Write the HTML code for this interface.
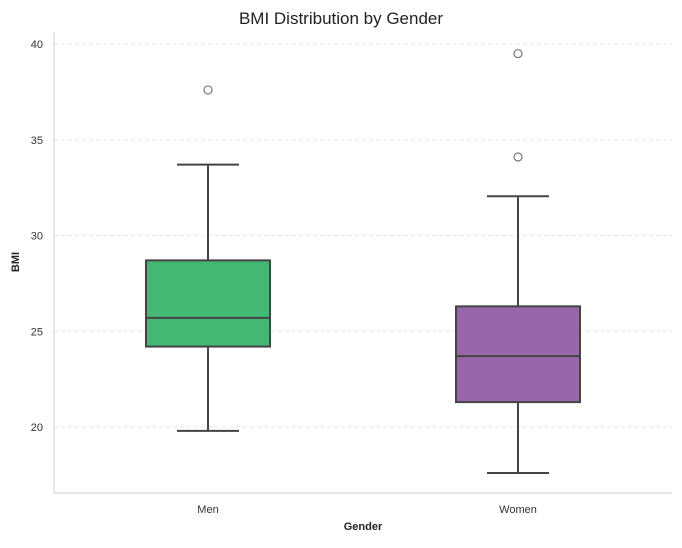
<!DOCTYPE html>
<html><head><meta charset="utf-8"><style>
body{margin:0;background:#fff;font-family:"Liberation Sans",sans-serif}
svg text{font-family:"Liberation Sans",sans-serif}
</style></head><body>
<svg id="chart" width="682" height="543" xmlns="http://www.w3.org/2000/svg">
<rect width="682" height="543" fill="#fff"/>
<text x="341" y="24" text-anchor="middle" font-size="17" fill="#222">BMI Distribution by Gender</text>
<g id="grid"></g><g id="yticks"></g><g id="boxes"></g><g id="xticks"></g>
<line x1="54" y1="32" x2="54" y2="493" stroke="#ccc" stroke-width="1"/>
<line x1="54" y1="493" x2="672" y2="493" stroke="#ccc" stroke-width="1"/>
<text x="19" y="262" text-anchor="middle" font-size="11" font-weight="bold" fill="#222" transform="rotate(-90 19 262)">BMI</text>
<text x="363" y="530" text-anchor="middle" font-size="11" font-weight="bold" fill="#222">Gender</text>
</svg>
<script>
const categories=["Men","Women"];
const whiskerLow=[19.8,17.6];
const q1=[24.2,21.3];
const median=[25.7,23.7];
const q3=[28.7,26.3];
const whiskerHigh=[33.7,32.05];
const outliers=[[37.6],[39.5,34.1]];
const colors=["#43b874","#9767aa"];
const yTicks=[20,25,30,35,40];
const NS="http://www.w3.org/2000/svg";
function y(v){return 427-(v-20)*19.15;}
function x(i){return 208+i*310;}
function mk(tag,attrs,parent){const e=document.createElementNS(NS,tag);for(const k in attrs)e.setAttribute(k,attrs[k]);document.getElementById(parent).appendChild(e);return e;}
yTicks.forEach(t=>{
 const g=mk("line",{x1:54,x2:672,y1:y(t),y2:y(t),stroke:"#e6e6e6","stroke-dasharray":"4,3"},"grid");
 
 
 const tx=mk("text",{x:43,y:y(t)+4,"text-anchor":"end","font-size":"11",fill:"#333"},"yticks");
 tx.textContent=t;
 
 
});
categories.forEach((c,i)=>{
 const cx=x(i),w=124,s="#444";
 const l1=mk("line",{x1:cx,x2:cx,y1:y(whiskerHigh[i]),y2:y(q3[i]),stroke:s,"stroke-width":2},"boxes");
 
 
 const l2=mk("line",{x1:cx,x2:cx,y1:y(q1[i]),y2:y(whiskerLow[i]),stroke:s,"stroke-width":2},"boxes");
 
 
 [whiskerHigh[i],whiskerLow[i]].forEach(v=>{
  const cap=mk("line",{x1:cx-31,x2:cx+31,y1:y(v),y2:y(v),stroke:s,"stroke-width":2},"boxes");
  
  
 });
 const r=mk("rect",{x:cx-w/2,y:y(q3[i]),width:w,height:y(q1[i])-y(q3[i]),fill:colors[i],stroke:s,"stroke-width":2},"boxes");
 
 
 const m=mk("line",{x1:cx-w/2,x2:cx+w/2,y1:y(median[i]),y2:y(median[i]),stroke:s,"stroke-width":2},"boxes");
 
 
 outliers[i].forEach(v=>{
  const o=mk("circle",{cx:cx,cy:y(v),r:4,fill:"none",stroke:"#777","stroke-width":1.2},"boxes");
  
  
 });
 const t=mk("text",{x:cx,y:513,"text-anchor":"middle","font-size":"11",fill:"#333"},"xticks");
 t.textContent=c;
 
 
});
</script>
</body></html>
